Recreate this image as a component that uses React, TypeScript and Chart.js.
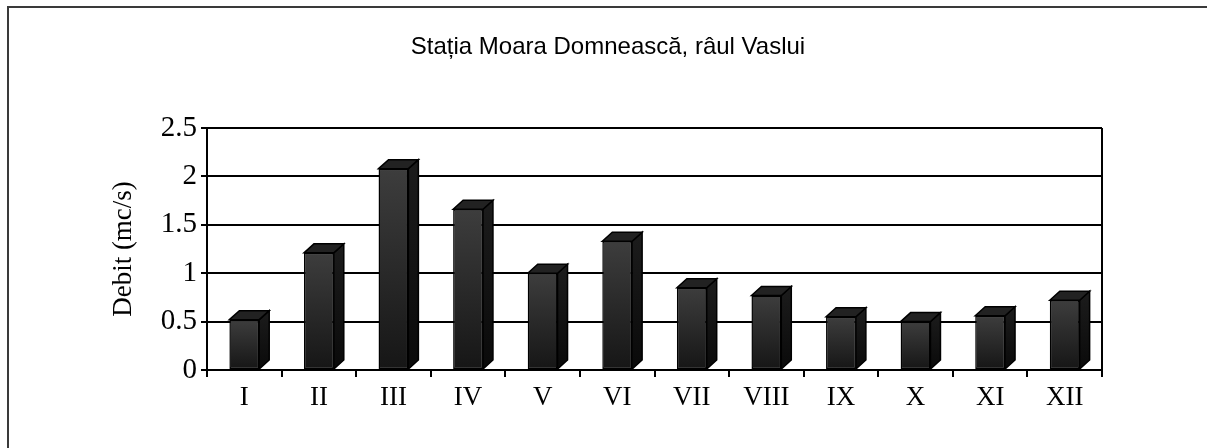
import React, { useEffect, useRef } from 'react';
import { Chart, registerables } from 'chart.js';

Chart.register(...registerables);

const titleText = 'Stația Moara Domnească, râul Vaslui';
const yAxisTitle = 'Debit (mc/s)';
const categories = ['I', 'II', 'III', 'IV', 'V', 'VI', 'VII', 'VIII', 'IX', 'X', 'XI', 'XII'];
const debit = [0.52, 1.21, 2.08, 1.66, 1.0, 1.33, 0.85, 0.77, 0.55, 0.5, 0.56, 0.72];
const yMin = 0;
const yMax = 2.5;
const yStep = 0.5;

const serif = "'Liberation Serif', 'Times New Roman', serif";
const sans = "'Liberation Sans', Arial, sans-serif";

const DX = 10;
const DY = 9;

const frame = {
  id: 'frame',
  beforeDraw(chart: any) {
    const ctx = chart.ctx;
    ctx.save();
    ctx.fillStyle = '#fff';
    ctx.fillRect(0, 0, chart.width, chart.height);
    ctx.strokeStyle = '#3a3a3a';
    ctx.lineWidth = 2;
    ctx.beginPath();
    ctx.moveTo(8, chart.height + 2);
    ctx.lineTo(8, 7);
    ctx.lineTo(chart.width + 2, 7);
    ctx.stroke();
    ctx.restore();
  },
};

const bar3d = {
  id: 'bar3d',
  afterDatasetsDraw(chart: any) {
    const ctx = chart.ctx;
    const meta = chart.getDatasetMeta(0);
    ctx.save();
    meta.data.forEach((el: any) => {
      const p = el.getProps(['x', 'y', 'base', 'width'], true);
      const l = p.x - p.width / 2;
      const r = p.x + p.width / 2;
      const top = Math.min(p.y, p.base);
      const bot = Math.max(p.y, p.base);
      const b = 1.5;
      const g = ctx.createLinearGradient(0, top, 0, bot);
      g.addColorStop(0, '#3d3d3d');
      g.addColorStop(1, '#161616');
      ctx.fillStyle = g;
      ctx.fillRect(l + b, top + b, p.width - 2 * b, bot - top - 2 * b);

      ctx.lineWidth = 1.5;
      ctx.lineJoin = 'miter';
      ctx.strokeStyle = '#000';
      const gs = ctx.createLinearGradient(0, top - DY, 0, bot);
      gs.addColorStop(0, '#1c1c1c');
      gs.addColorStop(1, '#0a0a0a');
      ctx.fillStyle = gs;
      ctx.beginPath();
      ctx.moveTo(r, top);
      ctx.lineTo(r + DX, top - DY);
      ctx.lineTo(r + DX, bot - DY);
      ctx.lineTo(r, bot);
      ctx.closePath();
      ctx.fill();
      ctx.stroke();
      ctx.fillStyle = '#222222';
      ctx.beginPath();
      ctx.moveTo(l, top);
      ctx.lineTo(l + DX, top - DY);
      ctx.lineTo(r + DX, top - DY);
      ctx.lineTo(r, top);
      ctx.closePath();
      ctx.fill();
      ctx.stroke();
    });
    ctx.restore();
  },
};

export default function App() {
  const ref = useRef<HTMLCanvasElement>(null);
  useEffect(() => {
    if (!ref.current) return;
    const chart = new Chart(ref.current, {
      type: 'bar',
      data: {
        labels: categories,
        datasets: [
          {
            data: debit,
            backgroundColor: '#2a2a2a',
            borderColor: '#000',
            borderWidth: 1.5,
            borderSkipped: false,
            barPercentage: 0.4,
            categoryPercentage: 1,
          },
        ],
      },
      options: {
        responsive: false,
        animation: false,
        devicePixelRatio: 1,
        layout: { padding: { left: 114, right: 105, top: 0, bottom: 0 } },
        plugins: {
          legend: { display: false },
          tooltip: { enabled: false },
          title: {
            display: true,
            text: titleText,
            color: '#000',
            font: { family: sans, size: 24, weight: 'normal' },
            padding: { top: 32.5, bottom: 66.7 },
          },
        },
        scales: {
          x: {
            afterFit: (s: any) => {
              s.height = 78;
            },
            grid: {
              display: true,
              offset: true,
              drawOnChartArea: true,
              color: (c: any) => (c.type === 'scale' ? '#000' : 'rgba(0,0,0,0)'),
              tickColor: '#000',
              tickLength: 7,
              lineWidth: 2,
            },
            border: { display: true, color: '#000', width: 2 },
            ticks: {
              color: '#000',
              font: { family: serif, size: 27 },
              padding: 5,
              maxRotation: 0,
            },
          },
          y: {
            min: yMin,
            max: yMax,
            afterFit: (s: any) => {
              s.width = 93;
            },
            grid: {
              color: '#000',
              lineWidth: 2,
              tickLength: 6,
              tickColor: '#000',
            },
            border: { display: true, color: '#000', width: 2 },
            ticks: {
              stepSize: yStep,
              color: '#000',
              font: { family: serif, size: 29 },
              padding: 4,
              callback: (v: any) => String(Number(v)),
            },
            title: {
              display: true,
              text: yAxisTitle,
              color: '#000',
              font: { family: serif, size: 27, lineHeight: 0.74 },
              padding: 0,
            },
          },
        },
      },
      plugins: [frame, bar3d],
    });
    return () => chart.destroy();
  }, []);
  return (
    <div style={{ position: 'absolute', left: 0, top: 0, width: 1207, height: 448 }}>
      <canvas ref={ref} width={1207} height={448} style={{ display: 'block' }} />
    </div>
  );
}
